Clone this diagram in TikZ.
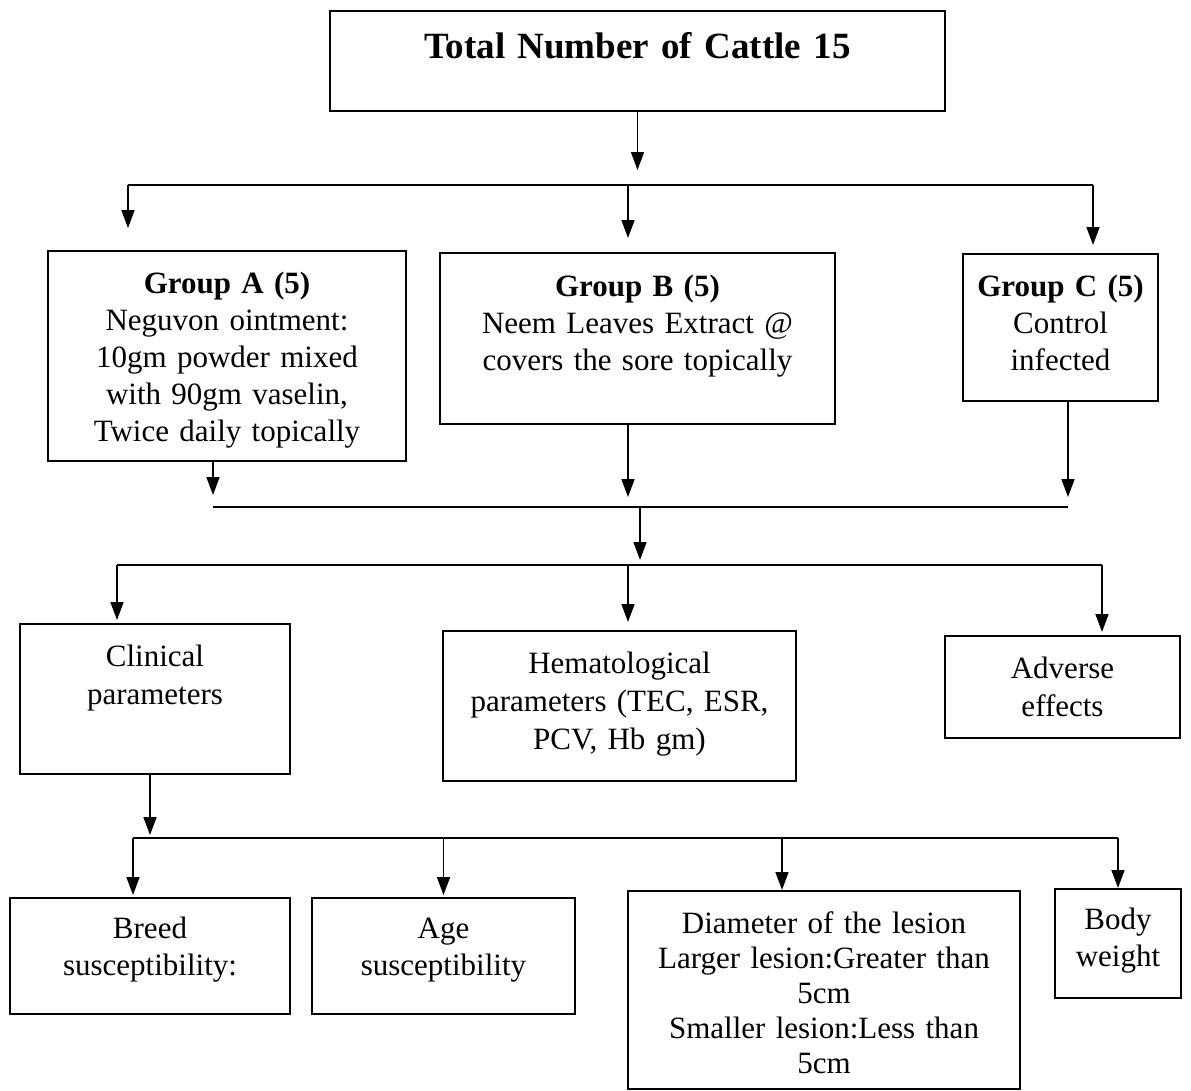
\documentclass[tikz,border=0pt]{standalone}
\usepackage{fontspec}
\setmainfont{Liberation Serif}
\usetikzlibrary{arrows.meta,positioning}

\tikzset{
  box/.style={draw, line width=1.6pt, align=center, anchor=north,
    inner xsep=0pt, inner ysep=0pt, font=\fontsize{31}{37}\selectfont},
  link/.style={line width=1.6pt},
  arrow/.style={link, -{Triangle[width=13pt,length=18pt]}}
}

\begin{document}
\begin{tikzpicture}[x=1pt,y=-1pt]
  \useasboundingbox[fill=white] (0,0) rectangle (1191,1090);

  % boxes
  \node[box, text width=615pt, text height=48pt, text depth=52pt,
    font=\fontsize{37}{44}\selectfont\bfseries] (total) at (637.5,10) {Total Number of Cattle 15};

  \node[box, text width=358pt, text height=43pt, text depth=167pt] (grpA) at (227,250)
    {\textbf{Group A (5)}\\Neguvon ointment:\\10gm powder mixed\\with 90gm vaselin,\\Twice daily topically};
  \node[box, text width=395pt, text height=44pt, text depth=127pt] (grpB) at (637.5,252)
    {\textbf{Group B (5)}\\Neem Leaves Extract @\\covers the sore topically};
  \node[box, text width=195pt, text height=43pt, text depth=104pt] (grpC) at (1060.5,253)
    {\textbf{Group C (5)}\\Control\\infected};

  \node[box, text width=270pt, text height=43pt, text depth=107pt,
    font=\fontsize{31}{38}\selectfont] (clin) at (155,623) {Clinical\\parameters};
  \node[box, text width=353pt, text height=43pt, text depth=107pt,
    font=\fontsize{31}{38}\selectfont] (hema) at (619.5,630) {Hematological\\parameters (TEC, ESR,\\PCV, Hb gm)};
  \node[box, text width=235pt, text height=43pt, text depth=59pt,
    font=\fontsize{31}{38}\selectfont] (adv) at (1062.5,635) {Adverse\\effects};

  \node[box, text width=280pt, text height=41pt, text depth=75pt] (breed) at (150,897) {Breed\\susceptibility:};
  \node[box, text width=263pt, text height=41pt, text depth=75pt] (age) at (443.5,897) {Age\\susceptibility};
  \node[box, text width=392pt, text height=43pt, text depth=155pt,
    font=\fontsize{31}{35}\selectfont] (diam) at (824,890)
    {Diameter of the lesion\\Larger lesion:Greater than\\5cm\\Smaller lesion:Less than\\5cm};
  \node[box, text width=126pt, text height=41pt, text depth=68pt] (body) at (1118,888) {Body\\weight};

  % bus ends
  \coordinate (b1w) at (128,185);
  \coordinate (b1m) at (628,185);
  \coordinate (b1e) at (1093,185);
  \coordinate (b2w) at (213,507);
  \coordinate (b2m) at (628,507);
  \coordinate (b2e) at (1068,507);
  \coordinate (b3w) at (117,565);
  \coordinate (b3m) at (628,565);
  \coordinate (b3e) at (1102,565);
  \coordinate (b4w) at (133,838);
  \coordinate (b4d) at (782,838);
  \coordinate (b4e) at (1118,838);

  % level 1
  \draw[arrow, shorten >=15pt] (total.south) -- (total.south |- b1w);
  \draw[link] (b1w) -- (b1e);
  \draw[arrow, shorten >=22pt] (b1w) -- (b1w |- grpA.north);
  \draw[arrow, shorten >=14pt] (b1m) -- (b1m |- grpB.north);
  \draw[arrow, shorten >=8pt] (b1e) -- (b1e |- grpC.north);

  % level 2
  \draw[arrow, shorten >=12pt] (b2w |- grpA.south) -- (b2w);
  \draw[arrow, shorten >=10pt] (b2m |- grpB.south) -- (b2m);
  \draw[arrow, shorten >=10pt] (b2e |- grpC.south) -- (b2e);
  \draw[link] (b2w) -- (b2e);
  \draw[arrow, shorten >=5pt] ([xshift=12pt]b2m) -- ([xshift=12pt]b3m);
  \draw[link] (b3w) -- (b3e);
  \draw[arrow, shorten >=3pt] (b3w) -- (b3w |- clin.north);
  \draw[arrow, shorten >=8pt] (b3m) -- (b3m |- hema.north);
  \draw[arrow, shorten >=3pt] (b3e) -- (b3e |- adv.north);

  % level 3
  \draw[arrow, shorten >=3pt] ([xshift=-5pt]clin.south) -- ([xshift=-5pt]clin.south |- b4w);
  \draw[link] (b4w) -- (b4e);
  \draw[arrow, shorten >=2pt] (b4w) -- (b4w |- breed.north);
  \draw[arrow, shorten >=2pt] (b4w -| age.north) -- (age.north);
  \draw[arrow] (b4d) -- (b4d |- diam.north);
  \draw[arrow] (b4e) -- (body.north);
\end{tikzpicture}
\end{document}
